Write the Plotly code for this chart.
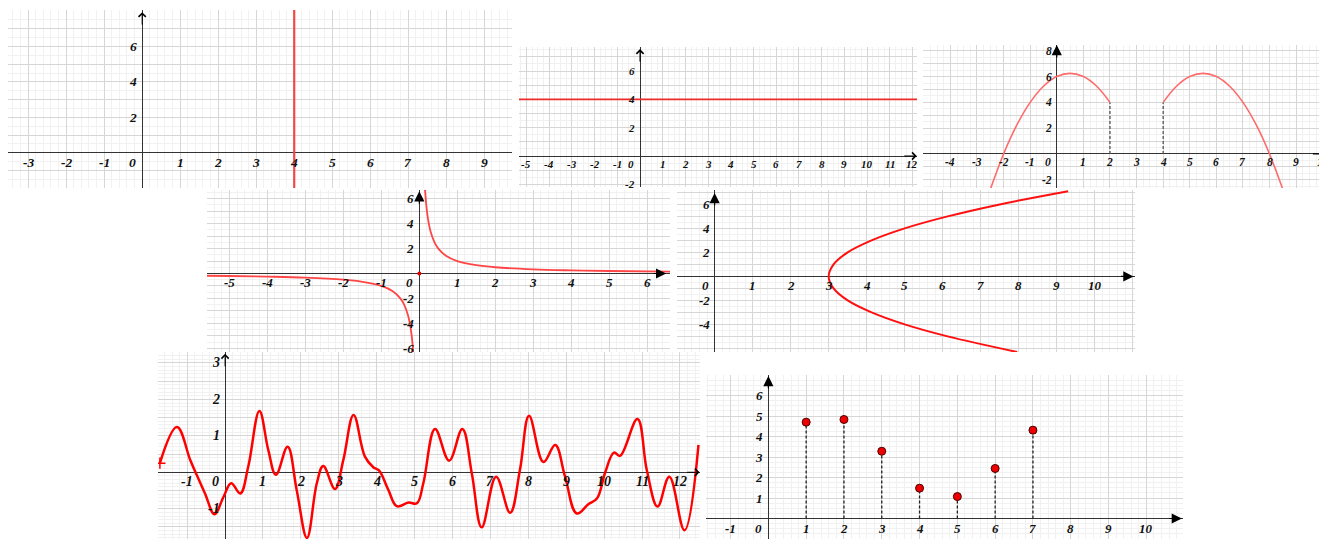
import plotly.graph_objects as go

# the page body adds an 8px margin, so the figure is drawn 8px smaller and all boxes shift by 8
OFF = 8
W, H = 1327 - OFF, 539 - OFF

# ---- values ----
P1_LINE_X = 4
P1_XTICKS = [-3, -2, -1, 1, 2, 3, 4, 5, 6, 7, 8, 9]
P1_YTICKS = [2, 4, 6]

P2_LINE_Y = 4
P2_XTICKS = [-5, -4, -3, -2, -1, 1, 2, 3, 4, 5, 6, 7, 8, 9, 10, 11, 12]
P2_YTICKS = [-2, 2, 4, 6]

P3_LEFT_X = [-2.5, -2, -1.5, -1, -0.5, 0, 0.5, 1, 1.5, 2]
P3_LEFT_Y = [-2.75, 0, 2.25, 4, 5.25, 6, 6.25, 6, 5.25, 4]
P3_RIGHT_X = [4, 4.5, 5, 5.5, 6, 6.5, 7, 7.5, 8, 8.5]
P3_RIGHT_Y = [4, 5.25, 6, 6.25, 6, 5.25, 4, 2.25, 0, -2.75]
P3_XTICKS = [-4, -3, -2, -1, 1, 2, 3, 4, 5, 6, 7, 8, 9, 10]
P3_YTICKS = [-2, 2, 4, 6, 8]

P4_POS_X = [0.15, 0.2, 0.25, 0.3, 0.4, 0.5, 0.7, 1, 1.5, 2, 3, 4, 5, 6.6]
P4_POS_Y = [6.7, 5, 4, 3.33, 2.5, 2, 1.43, 1, 0.67, 0.5, 0.33, 0.25, 0.2, 0.15]
P4_NEG_X = [-5.6, -5, -4, -3, -2, -1.5, -1, -0.7, -0.5, -0.4, -0.3, -0.25, -0.2, -0.16]
P4_NEG_Y = [-0.18, -0.2, -0.25, -0.33, -0.5, -0.67, -1, -1.43, -2, -2.5, -3.33, -4, -5, -6.3]
P4_DOT_X = [0]
P4_DOT_Y = [0]
P4_XTICKS = [-5, -4, -3, -2, -1, 1, 2, 3, 4, 5, 6]
P4_YTICKS = [-6, -4, -2, 2, 4, 6]

P5_X = [7.96, 6.13, 5, 4.13, 3.5, 3.13, 3, 3.13, 3.5, 4.13, 5, 6.13, 7.5, 9.3]
P5_Y = [-6.3, -5, -4, -3, -2, -1, 0, 1, 2, 3, 4, 5, 6, 7.1]
P5_XTICKS = [1, 2, 3, 4, 5, 6, 7, 8, 9, 10]
P5_YTICKS = [-4, -2, 2, 4, 6]

P6_X = [-1.72, -1.27, -0.92, -0.75, -0.53, -0.28, -0.04, 0.16, 0.40, 0.61, 0.905,
        1.14, 1.34, 1.65, 1.89, 2.16, 2.42, 2.59, 2.90, 3.12, 3.39, 3.69, 3.91,
        4.06, 4.31, 4.53, 4.84, 5.06, 5.23, 5.54, 5.91, 6.26, 6.51, 6.77, 7.15,
        7.52, 7.78, 8.02, 8.40, 8.71, 8.97, 9.28, 9.59, 9.81, 10.03, 10.26, 10.42,
        10.88, 11.13, 11.41, 11.72, 12.12, 12.49]
P6_Y = [0.25, 1.24, 0.34, -0.07, -0.58, -1.15, -0.67, -0.30, -0.58, 0.15, 1.68,
        0.61, -0.07, 0.70, -0.49, -1.80, -0.30, 0.17, -0.46, 0.34, 1.57, 0.43, 0.14,
        0.05, -0.49, -0.93, -0.83, -0.85, -0.30, 1.19, 0.32, 1.19, -0.03, -1.51, -0.12,
        -1.11, 0.07, 1.55, 0.28, 0.75, -0.12, -1.13, -0.87, -0.72, 0.0, 0.54, 0.45,
        1.46, 0.04, -0.94, -0.12, -1.59, 0.75]
P6_XTICKS = [-1, 1, 2, 3, 4, 5, 6, 7, 8, 9, 10, 11, 12]
P6_YTICKS = [-1, 1, 2, 3]

P7_X = [1, 2, 3, 4, 5, 6, 7]
P7_Y = [4.7, 4.83, 3.28, 1.48, 1.07, 2.44, 4.31]
P7_XTICKS = [-1, 1, 2, 3, 4, 5, 6, 7, 8, 9, 10]
P7_YTICKS = [1, 2, 3, 4, 5, 6]

# ---- panel layout (pixel boxes in the screenshot: left, top, right, bottom) ----
PANELS = [
    dict(box=(8, 10, 512, 188), xr=(-3.53, 9.73), yr=(-1.98, 8.05), xmin=0.2, ymaj=1, ymin=0.5,
         fs=13.5, head=4, xtip=9.74, ytip=7.93),
    dict(box=(519, 47, 917, 187), xr=(-5.33, 12.2), yr=(-2.19, 7.7), xmin=0.25, ymaj=1, ymin=0.5,
         fs=11, head=4, xtip=12.19, ytip=7.55),
    dict(box=(923, 45, 1327, 188), xr=(-5.03, 10.16), yr=(-2.64, 8.45), xmin=0.25, ymaj=1, ymin=0.5,
         fs=11.5, head=2, xtip=10.1, ytip=8.45, xhead=7),
    dict(box=(207, 190, 670, 352), xr=(-5.59, 6.6), yr=(-6.3, 6.7), xmin=0.2, ymaj=1, ymin=0.5,
         fs=13, head=2, xtip=6.5, ytip=6.6),
    dict(box=(677, 190, 1135, 352), xr=(-0.99, 11.06), yr=(-6.3, 7.2), xmin=0.2, ymaj=1, ymin=0.5,
         fs=13, head=2, xtip=11.02, ytip=6.95),
    dict(box=(158, 352, 700, 539), xr=(-1.77, 12.53), yr=(-1.83, 3.3), xmin=0.2, ymaj=0.5, ymin=0.1,
         fs=14, head=4, xtip=12.52, ytip=3.25),
    dict(box=(706, 375, 1183, 539), xr=(-1.65, 10.97), yr=(-1.0, 7.0), xmin=0.2, ymaj=1, ymin=0.25,
         fs=13, head=2, xtip=10.94, ytip=6.95),
]
TICKS = [(P1_XTICKS, P1_YTICKS), (P2_XTICKS, P2_YTICKS), (P3_XTICKS, P3_YTICKS),
         (P4_XTICKS, P4_YTICKS), (P5_XTICKS, P5_YTICKS), (P6_XTICKS, P6_YTICKS),
         (P7_XTICKS, P7_YTICKS)]

MAJOR = "#d6d6d6"
MINOR = "#f1f1f1"
AXIS = "#333333"


def refs(i):
    s = "" if i == 1 else str(i)
    return "x" + s, "y" + s, s


fig = go.Figure()
annots = []
for i, p in enumerate(PANELS, start=1):
    xr_, yr_, s = refs(i)
    l, t, r, b = [v - OFF for v in p["box"]]
    fig.update_layout(**{
        "xaxis" + s: dict(domain=[max(l, 0) / W, min(r, W) / W], range=list(p["xr"]), anchor=yr_,
                          tick0=0, dtick=1, showgrid=True, gridcolor=MAJOR, gridwidth=1,
                          minor=dict(dtick=p["xmin"], showgrid=True, gridcolor=MINOR),
                          showticklabels=False, ticks="", zeroline=True,
                          zerolinecolor=AXIS, zerolinewidth=1, showline=False, fixedrange=True),
        "yaxis" + s: dict(domain=[1 - min(b, H) / H, 1 - max(t, 0) / H], range=list(p["yr"]), anchor=xr_,
                          tick0=0, dtick=p["ymaj"], showgrid=True, gridcolor=MAJOR, gridwidth=1,
                          minor=dict(dtick=p["ymin"], showgrid=True, gridcolor=MINOR),
                          showticklabels=False, ticks="", zeroline=True,
                          zerolinecolor=AXIS, zerolinewidth=1, showline=False, fixedrange=True),
    })
    font = dict(family="Liberation Serif", size=p["fs"], color="#111")
    xt, yt = TICKS[i - 1]
    for v in xt:
        annots.append(dict(x=v, y=0, xref=xr_, yref=yr_, text=f"<b><i>{v}</i></b>", showarrow=False,
                           xanchor="center", yanchor="top", yshift=0, font=font))
    for v in yt:
        annots.append(dict(x=0, y=v, xref=xr_, yref=yr_, text=f"<b><i>{v}</i></b>", showarrow=False,
                           xanchor="right", yanchor="middle", xshift=-3, font=font))
    annots.append(dict(x=0, y=0, xref=xr_, yref=yr_, text="<b><i>0</i></b>", showarrow=False,
                       xanchor="right", yanchor="top", xshift=-4, yshift=0, font=font))
    # axis arrows
    head = p["head"]
    big = head == 2
    annots.append(dict(x=p["xtip"], y=0, xref=xr_, yref=yr_, ax=-14, ay=0, text="",
                       showarrow=True, arrowhead=p.get("xhead", head), arrowsize=1.7 if big else 1.4,
                       arrowwidth=1.2 if big else 1, arrowcolor="black", standoff=0))
    annots.append(dict(x=0, y=p["ytip"], xref=xr_, yref=yr_, ax=0, ay=14, text="",
                       showarrow=True, arrowhead=head, arrowsize=1.7 if big else 1.4,
                       arrowwidth=1.2 if big else 1, arrowcolor="black", standoff=0))

# panel 1: vertical line
fig.add_shape(type="line", xref="x", yref="y domain", x0=P1_LINE_X, x1=P1_LINE_X, y0=0, y1=1,
              line=dict(color="#f24848", width=2.2))
# panel 2: horizontal line
fig.add_shape(type="line", xref="x2 domain", yref="y2", x0=0, x1=1, y0=P2_LINE_Y, y1=P2_LINE_Y,
              line=dict(color="#ee2a2a", width=1.6))

# panel 3: two parabolas and dashed drops
for xs, ys in [(P3_LEFT_X, P3_LEFT_Y), (P3_RIGHT_X, P3_RIGHT_Y)]:
    fig.add_trace(go.Scatter(x=xs, y=ys, mode="lines",
                             line=dict(color="#ff6a6a", width=1.6, shape="spline", smoothing=1),
                             xaxis="x3", yaxis="y3"))
drop_x = [P3_LEFT_X[-1], P3_LEFT_X[-1], None, P3_RIGHT_X[0], P3_RIGHT_X[0]]
drop_y = [0, P3_LEFT_Y[-1], None, 0, P3_RIGHT_Y[0]]
fig.add_trace(go.Scatter(x=drop_x, y=drop_y, mode="lines",
                         line=dict(color="#555", width=1.3, dash="3px,2px"),
                         xaxis="x3", yaxis="y3"))

# panel 4: hyperbola
for xs, ys in [(P4_POS_X, P4_POS_Y), (P4_NEG_X, P4_NEG_Y)]:
    fig.add_trace(go.Scatter(x=xs, y=ys, mode="lines", line=dict(color="#ff4545", width=1.8, shape="spline"),
                             xaxis="x4", yaxis="y4"))
fig.add_trace(go.Scatter(x=P4_DOT_X, y=P4_DOT_Y, mode="markers", marker=dict(color="#e00000", size=4),
                         xaxis="x4", yaxis="y4"))

# panel 5: sideways parabola
fig.add_trace(go.Scatter(x=P5_X, y=P5_Y, mode="lines", line=dict(color="#ff1010", width=2, shape="spline"),
                         xaxis="x5", yaxis="y5"))

# panel 6: wavy curve
fig.add_trace(go.Scatter(x=P6_X, y=P6_Y, mode="lines",
                         line=dict(color="#ff0000", width=2.5, shape="spline", smoothing=1.1),
                         xaxis="x6", yaxis="y6"))
fig.add_trace(go.Scatter(x=P6_X[:1], y=P6_Y[:1], mode="markers",
                         marker=dict(symbol="cross-thin", size=8, line=dict(color="#ff0000", width=1.5)),
                         xaxis="x6", yaxis="y6"))

# panel 7: stems with dots
stem_x, stem_y = [], []
for xv, yv in zip(P7_X, P7_Y):
    stem_x += [xv, xv, None]
    stem_y += [0, yv, None]
fig.add_trace(go.Scatter(x=stem_x, y=stem_y, mode="lines",
                         line=dict(color="#222", width=1.3, dash="3px,2px"),
                         xaxis="x7", yaxis="y7"))
fig.add_trace(go.Scatter(x=P7_X, y=P7_Y, mode="markers",
                         marker=dict(color="#ee0000", size=8, line=dict(color="#4a0000", width=1)),
                         xaxis="x7", yaxis="y7"))

fig.update_layout(width=W, height=H, margin=dict(l=0, r=0, t=0, b=0), autosize=False,
                  paper_bgcolor="white", plot_bgcolor="white", showlegend=False,
                  annotations=annots)
fig.write_html("out.html")
